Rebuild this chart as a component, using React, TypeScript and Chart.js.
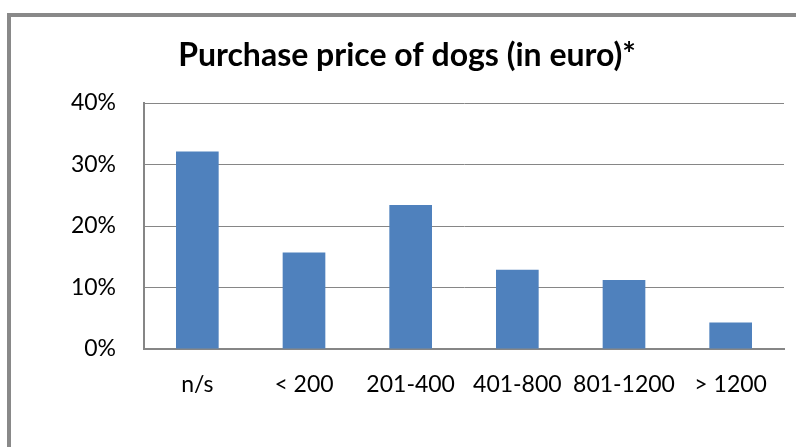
import React, { useEffect, useRef } from "react";
import { Chart, registerables } from "chart.js";

Chart.register(...registerables);

const TITLE = "Purchase price of dogs (in euro)*";
const categories = ["n/s", "< 200", "201-400", "401-800", "801-1200", "> 1200"];
const shares = [32.1, 15.7, 23.4, 12.9, 11.2, 4.3];
const yTicks = [0, 10, 20, 30, 40];

const FONT = "Lato, 'Open Sans', sans-serif";

export default function App() {
  const ref = useRef<HTMLCanvasElement | null>(null);

  useEffect(() => {
    if (!ref.current) return;
    const chart = new Chart(ref.current, {
      type: "bar",
      data: {
        labels: categories,
        datasets: [
          {
            data: shares,
            backgroundColor: "#4F81BD",
            borderWidth: 0,
            barPercentage: 0.4,
            categoryPercentage: 1,
          },
        ],
      },
      options: {
        animation: false,
        responsive: false,
        maintainAspectRatio: false,
        layout: { padding: { top: 20, left: 30, right: 12, bottom: 0 } },
        plugins: {
          legend: { display: false },
          tooltip: { enabled: false },
          title: {
            display: true,
            text: TITLE,
            color: "#000",
            font: { family: FONT, size: 32, weight: "bold" },
            padding: { top: 16.8, bottom: 27.8 },
          },
        },
        scales: {
          x: {
            grid: { display: false, drawTicks: false },
            border: { display: true, color: "#868686", width: 2 },
            ticks: {
              color: "#000",
              font: { family: FONT, size: 23 },
              padding: 22,
              maxRotation: 0,
              autoSkip: false,
            },
            afterFit: (s: any) => {
              s.height = 98;
            },
          },
          y: {
            min: 0,
            max: 40,
            afterBuildTicks: (s: any) => {
              s.ticks = yTicks.map((v) => ({ value: v }));
            },
            grid: { color: "#868686", lineWidth: 1, drawTicks: false },
            border: { display: true, color: "#868686", width: 2 },
            ticks: {
              color: "#000",
              font: { family: FONT, size: 23 },
              padding: 28,
              callback: (v: any) => `${v}%`,
            },
            afterFit: (s: any) => {
              s.width = 114;
            },
          },
        },
      },
    });
    return () => chart.destroy();
  }, []);

  return (
    <div style={{ position: "fixed", left: 0, top: 0, width: 796, height: 447, background: "#fff", overflow: "hidden" }}>
      <div
        style={{
          position: "absolute",
          left: 7,
          top: 13,
          width: 900,
          height: 600,
          borderLeft: "4px solid #898989",
          borderTop: "4px solid #898989",
        }}
      />
      <canvas ref={ref} width={796} height={447} style={{ position: "absolute", left: 0, top: 0, display: "block" }} />
    </div>
  );
}
